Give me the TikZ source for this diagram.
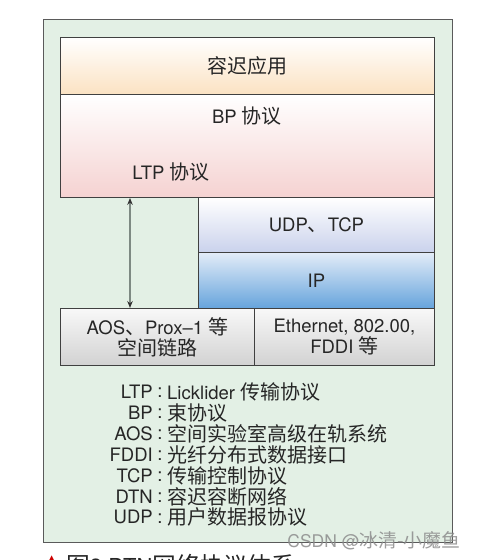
\documentclass[tikz,border=0pt]{standalone}
\usepackage{fontspec}
\setmainfont{TeX Gyre Heros}
\newfontfamily\cjk[Scale=1.08]{Noto Sans CJK SC}
\newfontfamily\symfont{DejaVu Sans}
\usetikzlibrary{arrows.meta}
\definecolor{outerfill}{HTML}{E3F0E5}
\definecolor{framegray}{HTML}{5A5A5A}
\definecolor{txt}{HTML}{262626}
\definecolor{appbot}{HTML}{FBE2C2}
\definecolor{bpbot}{HTML}{F5D2D1}
\definecolor{udpbot}{HTML}{CAD2EC}
\definecolor{iptop}{HTML}{E3ECF8}
\definecolor{ipbot}{HTML}{66A4DC}
\definecolor{linktop}{HTML}{F8F8F8}
\definecolor{linkbot}{HTML}{D2D2D2}
\definecolor{arrgray}{HTML}{7E8A83}
\begin{document}
\begin{tikzpicture}[x=1pt,y=-1pt,
  every node/.style={font=\fontsize{18.5}{21}\selectfont, text=txt},
  layer/.style={draw=black!75, line width=0.9pt, inner sep=0pt, anchor=north west, align=center},
  legkey/.style={anchor=east, inner sep=0pt},
  legcolon/.style={anchor=center, inner sep=0pt},
  legtext/.style={anchor=west, inner sep=0pt},
  linkarrow/.style={draw=arrgray, line width=1.6pt, {Stealth[length=7pt,width=5.5pt,black!80]}-{Stealth[length=7pt,width=5.5pt,black!80]}}
]
\clip (0,0) rectangle (478,560);
\fill[white] (0,0) rectangle (478,560);

% outer panel
\node[draw=framegray, line width=0.9pt, fill=outerfill, inner sep=0pt, anchor=north west,
      minimum width=409pt, minimum height=523pt] (outer) at (43,19) {};

% layers
\node[layer, minimum width=374pt, minimum height=57pt, top color=white, bottom color=appbot] (app) at (60,37) {\cjk 容迟应用};
\node[layer, minimum width=374pt, minimum height=103pt, top color=white, bottom color=bpbot] (bp) at (60,94) {};
\node[layer, minimum width=236pt, minimum height=55pt, top color=white, bottom color=udpbot] (udp) at (198,197) {UDP{\cjk 、}TCP};
\node[layer, minimum width=236pt, minimum height=56pt, top color=iptop, bottom color=ipbot] (ip) at (198,252) {IP};
\node[layer, minimum width=194pt, minimum height=57pt, top color=linktop, bottom color=linkbot] (aos) at (60,308) {AOS{\cjk 、}Prox–1 {\cjk 等}\\{\cjk 空间链路}};
\node[layer, minimum width=180pt, minimum height=57pt, top color=linktop, bottom color=linkbot] (eth) at (254,308) {Ethernet, 802.00,\\FDDI {\cjk 等}};

\node (bptxt) at (247,116) {BP {\cjk 协议}};
\node (ltptxt) at (171,172) {LTP {\cjk 协议}};

% double arrow between LTP and space link
\coordinate (ax) at (130,0);
\draw[linkarrow] (ax |- bp.south) -- (ax |- aos.north);

% legend
\foreach \k/\t [count=\i from 0] in {
  LTP/{Licklider {\cjk 传输协议}},
  BP/{\cjk 束协议},
  AOS/{\cjk 空间实验室高级在轨系统},
  FDDI/{\cjk 光纤分布式数据接口},
  TCP/{\cjk 传输控制协议},
  DTN/{\cjk 容迟容断网络},
  UDP/{\cjk 用户数据报协议}} {
  \node[legkey] (key\i) at (153, 392+20.9*\i) {\k};
  \node[legcolon] (col\i) at (160, 393+20.9*\i) {:};
  \node[legtext] (leg\i) at (167, 392+20.9*\i) {\t};
}

% watermark
\node[text=black!45, font=\fontsize{17.5}{17.5}\selectfont, opacity=0.85] (wm) at (374,541) {CSDN @{\cjk 冰清-小魔鱼}};

% caption, cut off by the lower edge as in the reference
\node[text=red!80!black, font=\symfont\fontsize{12}{12}\selectfont, anchor=north west, inner sep=0pt] (capmark) at (47,556) {▲};
\node[anchor=north west, inner sep=0pt, font=\fontsize{22}{22}\selectfont] (cap) at (66,554) {{\cjk 图}3 DTN{\cjk 网络协议体系}};
\end{tikzpicture}
\end{document}
